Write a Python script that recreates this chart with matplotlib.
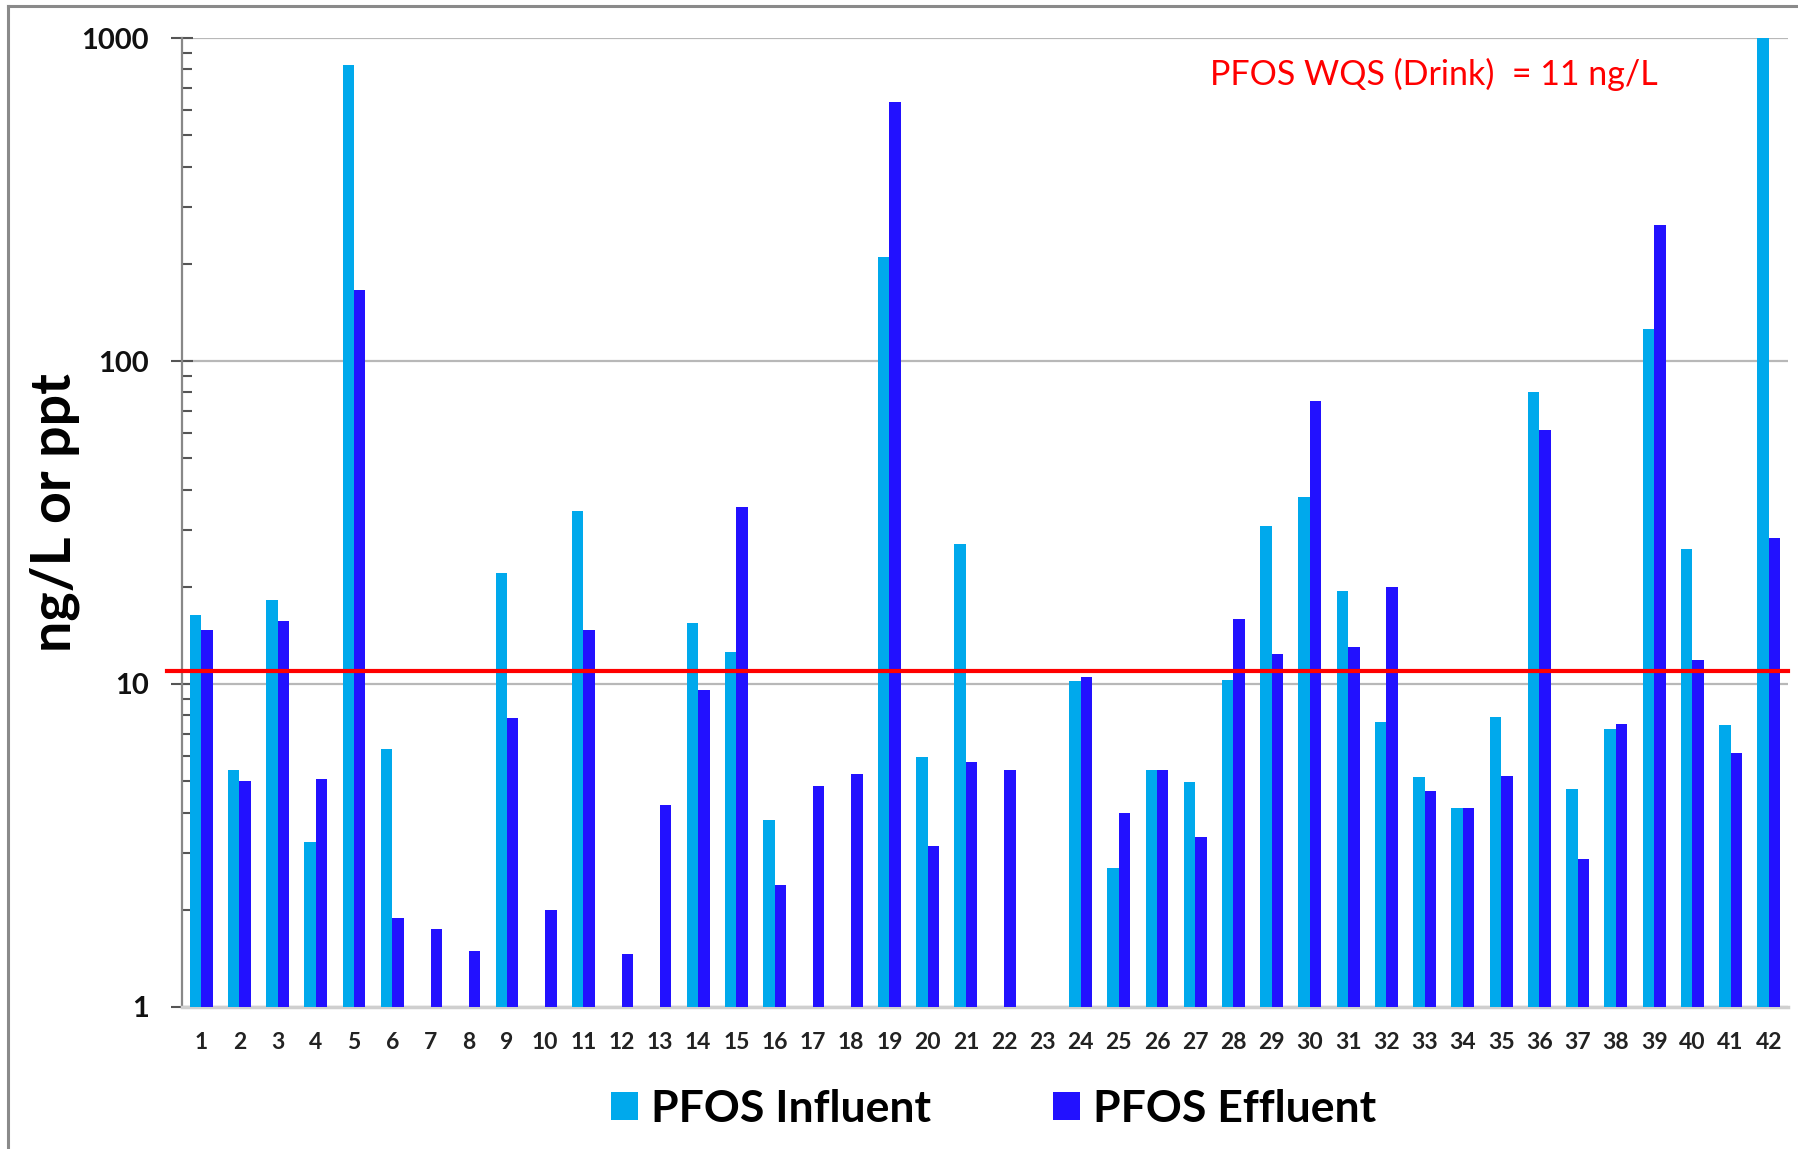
import numpy as np
import matplotlib.pyplot as plt
from matplotlib.lines import Line2D

plt.rcParams['font.family'] = ['Lato', 'DejaVu Sans']

# Sites 1..42, PFOS in ng/L (nan = not reported)
sites = np.arange(1, 43)
influent = [16.3, 5.4, 18.2, 3.24, 828, 6.28, np.nan, np.nan, 22.1, np.nan,
            34.3, np.nan, np.nan, 15.5, 12.6, 3.78, np.nan, np.nan, 210, 5.93,
            27.1, np.nan, np.nan, 10.2, 2.69, 5.42, 4.96, 10.3, 30.9, 37.8,
            19.4, 7.64, 5.16, 4.14, 7.89, 80.2, 4.72, 7.27, 126, 26.2,
            7.45, 1000]
effluent = [14.7, 5.0, 15.7, 5.08, 166, 1.89, 1.74, 1.49, 7.83, 2.0,
            14.7, 1.46, 4.21, 9.6, 35.2, 2.39, 4.83, 5.25, 633, 3.14,
            5.74, 5.42, np.nan, 10.5, 4.0, 5.42, 3.35, 15.9, 12.4, 75.2,
            13.0, 19.9, 4.68, 4.14, 5.2, 61.3, 2.87, 7.51, 264, 11.9,
            6.13, 28.4]
wqs_limit = 11  # drinking water standard, ng/L

influent = np.array(influent)
effluent = np.array(effluent)

fig = plt.figure(figsize=(17.98, 11.49), dpi=100)
ax = fig.add_axes([0.1012, 0.1236, 0.8932, 0.8433])

w = 0.30
m_in = np.isfinite(influent)
m_ef = np.isfinite(effluent)
ax.bar(sites[m_in] - w / 2, influent[m_in], width=w, bottom=0,
       color='#00A9EC', label='PFOS Influent', zorder=3)
ax.bar(sites[m_ef] + w / 2, effluent[m_ef], width=w, bottom=0,
       color='#2211FF', label='PFOS Effluent', zorder=3)

ax.set_yscale('log')
ax.set_ylim(1, 1000)
ax.set_xlim(0.5, 42.5)

# standard line, runs a little past the y axis
ax.axhline(wqs_limit, xmin=-0.0095, xmax=1, color='red', lw=3, zorder=4,
           clip_on=False)
ax.text(0.64, 0.962, 'PFOS WQS (Drink)  = 11 ng/L', transform=ax.transAxes,
        color='red', fontsize=24.5, ha='left', va='center')

ax.grid(axis='y', which='major', color='#b8b8b8', lw=1.6, zorder=0)
for s in ['top', 'right']:
    ax.spines[s].set_visible(False)
ax.spines['left'].set_color('#888888')
ax.spines['left'].set_linewidth(1.6)
ax.spines['bottom'].set_color('#cfcfcf')
ax.spines['bottom'].set_linewidth(2.5)

ax.set_xticks(sites)
ax.set_xticklabels([str(s) for s in sites], fontsize=16.5, fontweight='bold',
                   color='#222222')
ax.tick_params(axis='x', length=0, pad=18)
ax.set_yticks([1, 10, 100, 1000])
ax.set_yticklabels(['1', '10', '100', '1000'], fontsize=21, fontweight='bold',
                   color='#111111')
ax.tick_params(axis='y', which='major', direction='inout', length=16,
               width=1.5, color='#555555', pad=16)
ax.tick_params(axis='y', which='minor', direction='in', length=7,
               width=1.5, color='#555555')

fig.text(55 / 1798, 1 - 513 / 1149, 'ng/L or ppt', rotation=90,
         fontsize=40, fontweight='bold', ha='center', va='center')

leg = ax.legend(loc='center', bbox_to_anchor=(0.5056, -0.105), ncol=2,
                frameon=False, handlelength=0.6, handleheight=0.6,
                handletextpad=0.3, columnspacing=2.75,
                prop={'size': 32, 'weight': 'bold'})

# outer frame of the panel (top and left edges)
fig.add_artist(Line2D([8 / 1798, 8 / 1798], [0, 1 - 6 / 1149],
                      transform=fig.transFigure, color='#8a8a8a', lw=2.2))
fig.add_artist(Line2D([8 / 1798, 1], [1 - 6 / 1149, 1 - 6 / 1149],
                      transform=fig.transFigure, color='#8a8a8a', lw=2.2))

fig.savefig('out.png', dpi=100, facecolor='white')
